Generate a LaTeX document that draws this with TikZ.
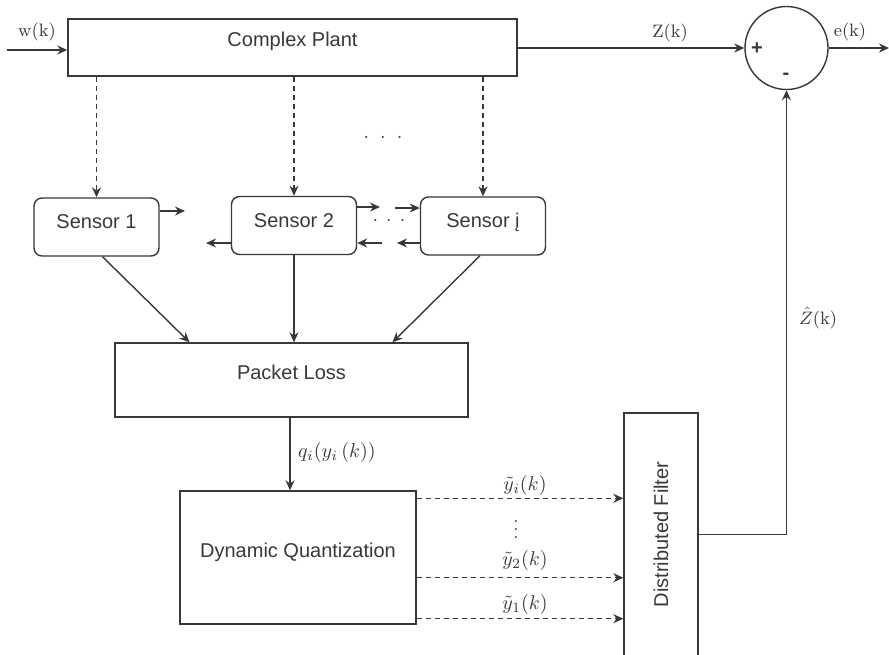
\documentclass[tikz,border=0pt]{standalone}
\usepackage{fontspec}
\setsansfont{Liberation Sans}
\usetikzlibrary{arrows.meta, calc}
\usepackage{amsmath, amssymb}

\begin{document}
\begin{tikzpicture}[x=0.5pt, y=-0.5pt, ->, >={Stealth[length=5pt, width=4.5pt]}, line width=0.7pt, color=black!78,
    block/.style={draw, rectangle, font=\sffamily, inner sep=0pt},
    sensor/.style={block, rounded corners=4pt, minimum width=62.5pt, minimum height=29pt, text height=7.5pt, text depth=6pt},
    lbl/.style={inner sep=1pt, font=\fontsize{9}{10}\selectfont},
    dots/.style={inner sep=0pt}]
  \clip (0,0) rectangle (889,654);
  % blocks
  \node[block, minimum width=224.5pt, minimum height=28.5pt, text height=7.5pt, text depth=8.5pt] (plant) at (292.5,47.5) {Complex Plant};
  \node[draw, circle, minimum size=41.5pt, inner sep=0pt] (sum) at (786.5,48) {};
  \node[sensor] (s1) at (96.5,227) {Sensor 1};
  \node[sensor] (s2) at (294,225.5) {Sensor 2};
  \node[sensor] (si) at (483,226) {Sensor į};
  \node[block, minimum width=176.5pt, minimum height=37pt, text height=7.5pt, text depth=8pt] (loss) at (291.5,380) {Packet Loss};
  \node[block, minimum width=118pt, minimum height=66.5pt, text height=7.5pt, text depth=8pt] (quant) at (298,557.5) {Dynamic Quantization};
  \node[block, minimum width=37pt, minimum height=121.5pt] (filter) at (661,534.5) {\rotatebox{90}{Distributed Filter}};

  % input and output of the plant
  \coordinate (win) at (7,50);
  \coordinate (eout) at (889,48);
  \draw (win) -- (win -| plant.west);
  \draw (sum.west -| plant.east) -- (sum.west);
  \draw (sum.east) -- (eout);
  \node[lbl] (wk) at (37,32) {w(k)};
  \node[lbl] (zk) at (670,33) {Z(k)};
  \node[lbl] (ek) at (850,32) {e(k)};
  \node[dots, font=\sffamily\bfseries] (plus) at (757,49) {+};
  \node[dots, font=\sffamily\bfseries] (minus) at (786,76) {-};

  % plant to sensors
  \foreach \s in {s1,s2,si}
    \draw[dash pattern=on 2.5pt off 2pt] (plant.south -| \s.north) -- (\s.north);
  \node[dots] (dtop) at (383,137) {.\hspace{5.5pt}.\hspace{5.5pt}.};

  % links between sensors
  \coordinate (s1r) at (185,211);
  \coordinate (s2l) at (206,243);
  \coordinate (s2r) at (380,207);
  \coordinate (sil) at (395,208);
  \coordinate (sild) at (397,243);
  \coordinate (s2rd) at (382,243);
  \draw (s1r -| s1.east) -- (s1r);
  \draw (s2l -| s2.west) -- (s2l);
  \draw (s2r -| s2.east) -- (s2r);
  \draw (sil) -- (sil -| si.west);
  \draw (sild -| si.west) -- (sild);
  \draw (s2rd) -- (s2rd -| s2.east);
  \node[dots] (dmid) at (389,220) {.\hspace{4pt}.\hspace{4pt}.};

  % sensors to packet loss
  \draw ($(s1.south)+(6,0)$) -- ($(loss.north)+(-102,0)$);
  \draw (s2.south) -- (s2.south |- loss.north);
  \draw ($(si.south)+(-3,0)$) -- ($(loss.north)+(101,0)$);

  % packet loss to quantization
  \draw ($(loss.south)+(-1.5,0)$) coordinate (qtop) -- (qtop |- quant.north);
  \node[lbl, font=\normalsize] (qlbl) at (337,452) {$q_i(y_i\,(k))$};

  % quantization to filter
  \coordinate (yi) at ($(quant.north east)+(0,8)$);
  \coordinate (y2) at ($(quant.south east)+(0,-47)$);
  \coordinate (y1) at ($(quant.south east)+(0,-6)$);
  \foreach \c in {yi,y2,y1}
    \draw[dash pattern=on 2.5pt off 2pt] (\c) -- (\c -| filter.west);
  \node[lbl, font=\normalsize] (yilbl) at (525,485) {$\tilde{y}_i(k)$};
  \node[lbl, font=\normalsize] (y2lbl) at (525,560) {$\tilde{y}_2(k)$};
  \node[lbl, font=\normalsize] (y1lbl) at (525,604) {$\tilde{y}_1(k)$};
  \node[dots, font=\small] (dvert) at (516,524) {$\vdots$};

  % feedback
  \draw (filter.east) -| (sum.south);
  \node[lbl] (zhat) at (818,318) {$\hat{Z}(\mathrm{k})$};
\end{tikzpicture}
\end{document}
